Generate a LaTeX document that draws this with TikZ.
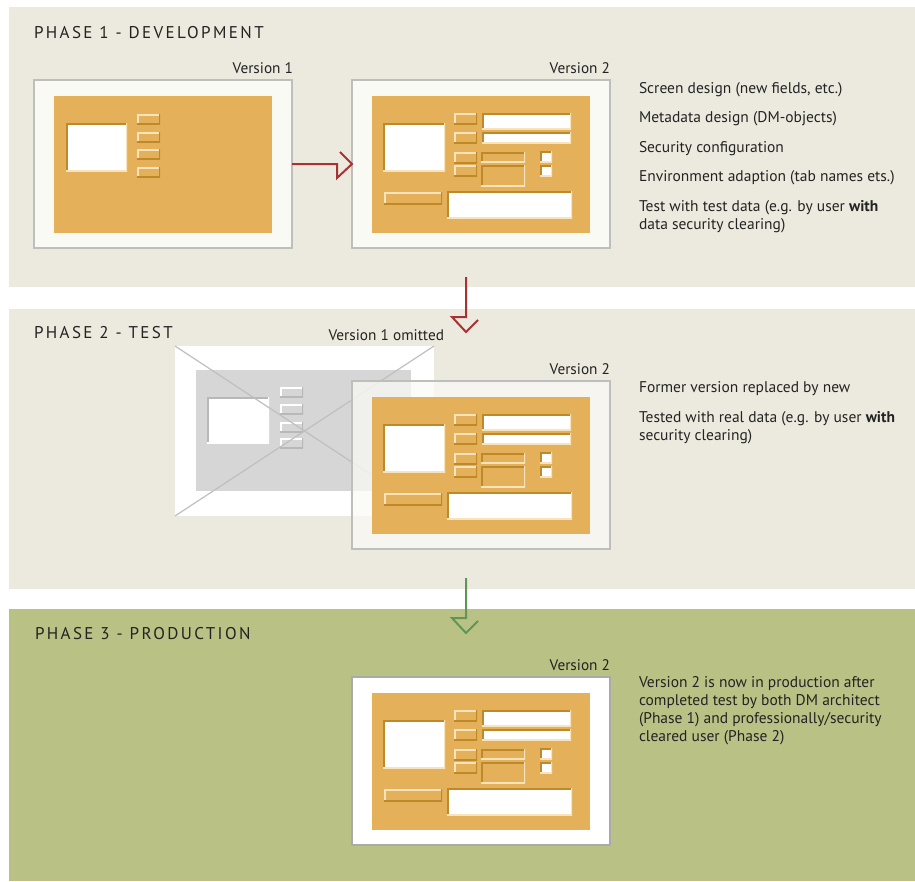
\documentclass[tikz,border=0pt]{standalone}
\usepackage{fontspec}
\setmainfont{PT Sans}
\newfontfamily\headfont[LetterSpace=14]{PT Sans}
\usetikzlibrary{calc}

\definecolor{panelbg}{RGB}{236,234,222}
\definecolor{prodbg}{RGB}{186,193,133}
\definecolor{formbg}{RGB}{228,177,90}
\definecolor{edgedark}{RGB}{190,137,40}
\definecolor{edgelight}{RGB}{247,228,188}
\definecolor{offwhite}{RGB}{250,250,245}
\definecolor{framegray}{RGB}{190,190,188}
\definecolor{framedark}{RGB}{170,170,170}
\definecolor{arrowred}{RGB}{168,50,50}
\definecolor{arrowgreen}{RGB}{95,150,85}
\definecolor{inkgray}{RGB}{35,35,35}

\begin{document}
\begin{tikzpicture}[x=1pt, y=-1pt,
    every node/.style={inner sep=0pt, outer sep=0pt, text=inkgray},
    title/.style={anchor=base west, font=\headfont\fontsize{17}{18}\selectfont},
    label/.style={anchor=base east, font=\fontsize{15.3}{18}\selectfont},
    note/.style={anchor=base west, align=left, font=\fontsize{15.5}{18}\selectfont},
    frame/.style={draw=framegray, line width=2pt, fill=offwhite, anchor=north west, minimum width=258pt, minimum height=168pt},
    groove/.style={path picture={
        \draw[edgedark, line width=3pt] (path picture bounding box.south west) |- (path picture bounding box.north east);
        \draw[edgelight, line width=3pt] (path picture bounding box.south west) -| (path picture bounding box.north east);}},
    raised/.style={path picture={
        \draw[edgelight, line width=3pt] (path picture bounding box.south west) |- (path picture bounding box.north east);
        \draw[edgedark, line width=3pt] (path picture bounding box.south west) -| (path picture bounding box.north east);}},
    sunk/.style={groove, fill=white},
    xline/.style={draw=black!25, line width=1.2pt},
    arrow/.style={line width=2pt, line join=miter},
    openhead/.style={to path={-- ($(\tikztotarget)!15pt!(\tikztostart)$) coordinate (oh)
        -- ($(oh)!14pt!-90:(\tikztotarget)$) -- (\tikztotarget) -- ($(\tikztotarget)!17pt!-45:(\tikztostart)$)}}]

    \useasboundingbox (0,0) rectangle (915,881);

    \fill[panelbg] (9,7) rectangle (915,287);
    \fill[panelbg] (9,309) rectangle (915,589);
    \fill[prodbg] (9,609) rectangle (915,881);

    \node[title] (ph1) at (34,38) {PHASE 1 - DEVELOPMENT};
    \node[title] (ph2) at (34,338.5) {PHASE 2 - TEST};
    \node[title] (ph3) at (35,639) {PHASE 3 - PRODUCTION};

    \node[frame] (ver1) at (34,80) {};
    \fill[formbg] (54,96) rectangle (272,233);
    \path[sunk] (66,123) rectangle (127,171);
    \foreach \y in {114,132,149,167}
        \path[raised] (137,\y) rectangle +(23,10);
    \node[label] (ver1-lbl) at (293,73) {Version 1};

    \node[frame, draw=none, fill=white, minimum width=259pt, minimum height=170pt] (omit) at (175,346) {};
    \fill[black!16] (196,370) rectangle (411,491);
    \begin{scope}[every path/.append style={/utils/exec={\colorlet{edgedark}{black!28}\colorlet{edgelight}{white}}}]
        \path[sunk] (207,397) rectangle (269,443);
        \foreach \y in {387,404,422,438}
            \path[raised] (280,\y) rectangle +(23,10);
    \end{scope}
    \draw[xline] (omit.north west) -- (omit.south east);
    \draw[xline] (omit.north east) -- (omit.south west);
    \node[label] (omit-lbl) at (444,340.5) {Version 1 omitted};

    \foreach \dy/\nm/\op/\fc/\bc in {0/ver2a/1/offwhite/framegray, 301/ver2b/0.75/offwhite/framegray, 597/ver2c/1/white/framedark} {
        \begin{scope}[shift={(351,{79+\dy})}]
            \node[frame, fill=\fc, draw=\bc, fill opacity=\op] (\nm) at (1,1) {};
            \node[label] (\nm-lbl) at (259,-6) {Version 2};
            \fill[formbg] (21,17) rectangle (239,154);
            \path[sunk] (32,44) rectangle (94,92);
            \foreach \y in {34,53,73,86}
                \path[raised] (103,\y) rectangle +(23,11);
            \path[sunk] (131,34) rectangle (220,50);
            \path[sunk] (131,53) rectangle (220,64);
            \path[groove] (130,73) rectangle (174,83);
            \path[groove] (130,86) rectangle (174,107);
            \path[sunk] (189,72) rectangle (201,83);
            \path[sunk] (189,86) rectangle (201,97);
            \path[raised] (33,113) rectangle (91,125);
            \path[sunk] (96,112) rectangle (221,139);
        \end{scope}
    }

    \coordinate (drop1) at (466,277);
    \coordinate (land1) at (466,332);
    \coordinate (drop2) at (466,578);
    \coordinate (land2) at (466,633);
    \draw[arrow, arrowred] (ver1.east) to[openhead] (ver2a.west);
    \draw[arrow, arrowred] (drop1) to[openhead] (land1);
    \draw[arrow, arrowgreen] (drop2) to[openhead] (land2);

    \node[note] (txt1) at (639,229) {Screen design (new fields, etc.)\\[11.5pt]
        Metadata design (DM-objects)\\[11.5pt]
        Security configuration\\[11.5pt]
        Environment adaption (tab names ets.)\\[11.5pt]
        Test with test data (e.g. by user \textbf{with}\\
        data security clearing)};
    \node[note] (txt2) at (639,440) {Former version replaced by new\\[12pt]
        Tested with real data (e.g. by user \textbf{with}\\
        security clearing)};
    \node[note] (txt3) at (639,741) {Version 2 is now in production after\\
        completed test by both DM architect\\
        (Phase 1) and professionally/security\\
        cleared user (Phase 2)};

\end{tikzpicture}
\end{document}
